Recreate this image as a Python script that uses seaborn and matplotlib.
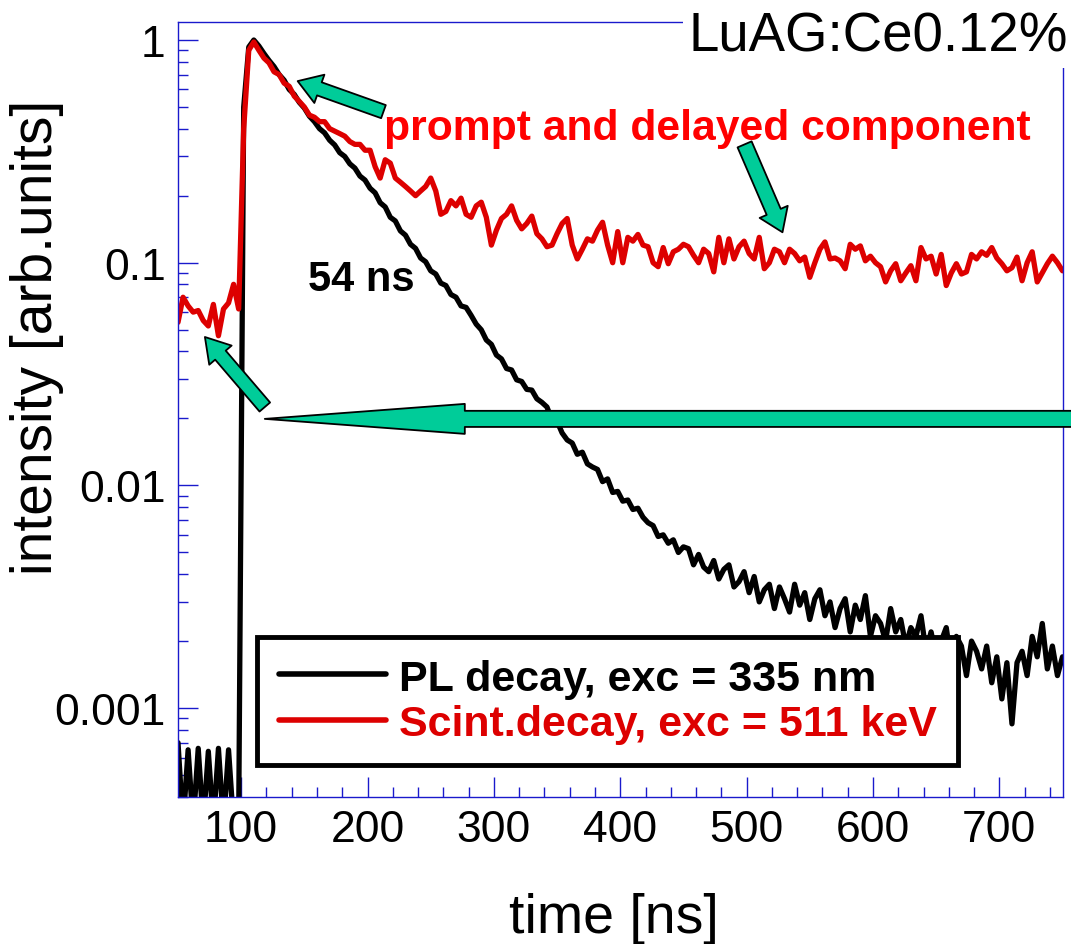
import numpy as np
import pandas as pd
import matplotlib
matplotlib.use("Agg")
import matplotlib.pyplot as plt
from matplotlib.ticker import FixedLocator, LogLocator, NullFormatter, FuncFormatter, MultipleLocator
from matplotlib.lines import Line2D
import seaborn as sns

# ---------------- data ----------------
time_ns = np.arange(50, 751, 4)

pl_decay = [
    7.0e-4, 3.0e-4, 6.5e-4, 3.0e-4, 6.6e-4, 3.0e-4, 6.4e-4, 3.0e-4, 6.6e-4, 3.0e-4,
    6.5e-4, 3.0e-4, 3.0e-4, 0.50, 0.93, 1.00, 0.94, 0.87, 0.81, 0.76,
    0.70, 0.66, 0.60, 0.57, 0.525, 0.495, 0.455, 0.43, 0.40, 0.383,
    0.355, 0.338, 0.312, 0.30, 0.278, 0.266, 0.245, 0.235, 0.216, 0.206,
    0.186, 0.178, 0.160, 0.154, 0.139, 0.133, 0.121, 0.116, 0.105, 0.101,
    0.092, 0.089, 0.081, 0.079, 0.072, 0.070, 0.064, 0.063, 0.058, 0.053,
    0.050, 0.045, 0.043, 0.0385, 0.037, 0.0335, 0.0330, 0.0298, 0.0293, 0.0270,
    0.0268, 0.0245, 0.0236, 0.0225, 0.0196, 0.0194, 0.0172, 0.0160, 0.0155, 0.0138,
    0.0141, 0.0125, 0.0121, 0.0118, 0.0104, 0.0107, 0.0093, 0.0094, 0.0085, 0.0086,
    0.0078, 0.0079, 0.0072, 0.0068, 0.0066, 0.0059, 0.0060, 0.0055, 0.0057, 0.0050,
    0.0053, 0.0052, 0.0044, 0.0049, 0.0043, 0.0041, 0.0046, 0.0038, 0.0042, 0.0044,
    0.0035, 0.0037, 0.0041, 0.0033, 0.0039, 0.0030, 0.0034, 0.0036, 0.0028, 0.0035,
    0.0031, 0.0027, 0.0036, 0.0029, 0.0033, 0.0025, 0.0031, 0.0034, 0.0026, 0.0030,
    0.0023, 0.0028, 0.0031, 0.0022, 0.0029, 0.0025, 0.0032, 0.0021, 0.0026, 0.0024,
    0.0020, 0.0028, 0.0022, 0.0025, 0.0019, 0.0023, 0.0021, 0.0026, 0.0018, 0.0022,
    0.0017, 0.0020, 0.0023, 0.0016, 0.0021, 0.0019, 0.0014, 0.0020, 0.0018, 0.0015,
    0.0019, 0.0013, 0.0017, 0.0011, 0.0016, 0.00085, 0.0016, 0.0018, 0.0014, 0.0021,
    0.0017, 0.0024, 0.0015, 0.0019, 0.0014, 0.0017,
]

scint_decay = [
    0.054, 0.070, 0.064, 0.060, 0.061, 0.055, 0.052, 0.065, 0.047, 0.062,
    0.066, 0.080, 0.062, 0.40, 0.90, 0.98, 0.90, 0.83, 0.79, 0.72,
    0.70, 0.64, 0.62, 0.56, 0.53, 0.50, 0.46, 0.45, 0.43, 0.43,
    0.40, 0.39, 0.38, 0.37, 0.35, 0.34, 0.34, 0.32, 0.32, 0.27,
    0.24, 0.29, 0.28, 0.24, 0.23, 0.22, 0.21, 0.20, 0.21, 0.22,
    0.24, 0.21, 0.165, 0.17, 0.19, 0.18, 0.195, 0.165, 0.16, 0.18,
    0.187, 0.16, 0.12, 0.14, 0.158, 0.165, 0.18, 0.155, 0.142, 0.15,
    0.162, 0.135, 0.128, 0.118, 0.12, 0.135, 0.15, 0.158, 0.12, 0.104,
    0.115, 0.128, 0.125, 0.14, 0.152, 0.12, 0.10, 0.138, 0.10, 0.13,
    0.125, 0.134, 0.12, 0.118, 0.10, 0.096, 0.117, 0.099, 0.112, 0.115,
    0.121, 0.118, 0.108, 0.10, 0.115, 0.11, 0.091, 0.13, 0.10, 0.128,
    0.104, 0.118, 0.125, 0.11, 0.104, 0.13, 0.094, 0.10, 0.115, 0.112,
    0.10, 0.115, 0.11, 0.102, 0.106, 0.086, 0.10, 0.115, 0.124, 0.104,
    0.105, 0.102, 0.094, 0.121, 0.115, 0.119, 0.102, 0.107, 0.10, 0.096,
    0.082, 0.092, 0.099, 0.083, 0.09, 0.097, 0.083, 0.117, 0.104, 0.107,
    0.089, 0.109, 0.079, 0.09, 0.099, 0.089, 0.091, 0.109, 0.104, 0.112,
    0.108, 0.117, 0.105, 0.099, 0.092, 0.095, 0.106, 0.083, 0.10, 0.112,
    0.082, 0.09, 0.099, 0.107, 0.10, 0.092,
]

series_labels = ["PL decay, exc = 335 nm", "Scint.decay, exc = 511 keV"]
x_ticks = [100, 200, 300, 400, 500, 600, 700]
y_ticks = [0.001, 0.01, 0.1, 1]
y_tick_labels = ["0.001", "0.01", "0.1", "1"]

assert len(pl_decay) == len(time_ns) and len(scint_decay) == len(time_ns)

df = pd.concat([
    pd.DataFrame({"time": time_ns, "intensity": pl_decay, "series": series_labels[0]}),
    pd.DataFrame({"time": time_ns, "intensity": scint_decay, "series": series_labels[1]}),
])

# ---------------- style ----------------
sns.set_style("white")
plt.rcParams["font.family"] = ["Liberation Sans", "DejaVu Sans"]

BLUE = "#1a1acc"
RED_LINE = "#dd0000"
TEAL = "#00cc99"

W, H = 1071, 945
fig = plt.figure(figsize=(W / 100, H / 100), dpi=100)
ax = fig.add_axes([178 / W, 1 - 798 / H, (1062.5 - 178) / W, (798 - 23) / H])

sns.lineplot(data=df[df.series == series_labels[0]], x="time", y="intensity",
             color="black", lw=3.8, ax=ax, estimator=None, legend=False)
sns.lineplot(data=df[df.series == series_labels[1]], x="time", y="intensity",
             color=RED_LINE, lw=3.8, ax=ax, estimator=None, legend=False)

ax.set_yscale("log")
ax.set_xlim(50, 750)
ax.set_ylim(3.99e-4, 1.205)

for side, sp in ax.spines.items():
    sp.set_visible(True)
    sp.set_color(BLUE)
    sp.set_linewidth(1.0)

ax.xaxis.set_major_locator(FixedLocator(x_ticks))
ax.xaxis.set_minor_locator(MultipleLocator(20))
ax.yaxis.set_major_locator(FixedLocator(y_ticks))
ax.yaxis.set_minor_locator(LogLocator(base=10, subs=np.arange(2, 10)))
ax.yaxis.set_minor_formatter(NullFormatter())
ax.yaxis.set_major_formatter(FuncFormatter(lambda v, p: dict(zip(y_ticks, y_tick_labels)).get(v, "")))
ax.tick_params(which="both", direction="in", colors=BLUE, labelcolor="black",
               bottom=True, left=True, top=False, right=False, width=1.0)
ax.tick_params(which="major", length=14.4, labelsize=32, pad=9)
ax.tick_params(which="minor", length=7.2)

ax.set_xlabel("time [ns]", fontsize=40, color="black")
ax.set_ylabel("intensity [arb.units]", fontsize=41, color="black")
ax.xaxis.set_label_coords(0.493, -0.123)
ax.yaxis.set_label_coords(-0.129, 0.595)

# annotations
ax.text(213.4, 0.359, "prompt and delayed component", color="#ff0000",
        fontsize=30.7, fontweight="bold", ha="left", va="baseline")
ax.text(152.6, 0.0754, "54 ns", color="black", fontsize=30, fontweight="bold",
        ha="left", va="baseline")

def arrow(tip, tail, hw, hl, tw):
    ax.annotate("", xy=tip, xytext=tail, xycoords="data", textcoords="data",
                annotation_clip=False, zorder=6,
                arrowprops=dict(arrowstyle=f"simple,head_length={hl},head_width={hw},tail_width={tw}",
                                mutation_scale=20, fc=TEAL, ec="black", lw=1.3,
                                shrinkA=0, shrinkB=0, clip_on=False))

arrow((144.7, 0.654), (212.6, 0.477), 1.08, 0.83, 0.5)
arrow((528.4, 0.137), (498.4, 0.34), 1.1, 0.8, 0.55)
arrow((71.3, 0.0464), (118.7, 0.0225), 1.06, 0.86, 0.5)
arrow((118.7, 0.0199), (760, 0.0199), 1.08, 7.2, 0.58)

# legend
handles = [Line2D([], [], color="black", lw=4), Line2D([], [], color=RED_LINE, lw=4)]
leg = ax.legend(handles, series_labels, loc="upper left",
                bbox_to_anchor=(257 / W, 1 - 638 / H), bbox_transform=fig.transFigure,
                borderaxespad=0, frameon=True, fancybox=False, framealpha=1,
                edgecolor="black", prop={"size": 31, "weight": "bold"},
                handlelength=2.5, handletextpad=0.3, labelspacing=0.12, borderpad=0.5)
leg.get_frame().set_linewidth(3.5)
leg.set_zorder(5)
leg.get_texts()[0].set_color("black")
leg.get_texts()[1].set_color(RED_LINE)

# title overlapping the upper right corner
fig.text(1068 / W, 1 - 52 / H, "LuAG:Ce0.12%", fontsize=39.3, ha="right", va="baseline",
         color="black", zorder=10,
         bbox=dict(facecolor="white", edgecolor="none", pad=4))

fig.savefig("out.png", dpi=100, facecolor="white")
